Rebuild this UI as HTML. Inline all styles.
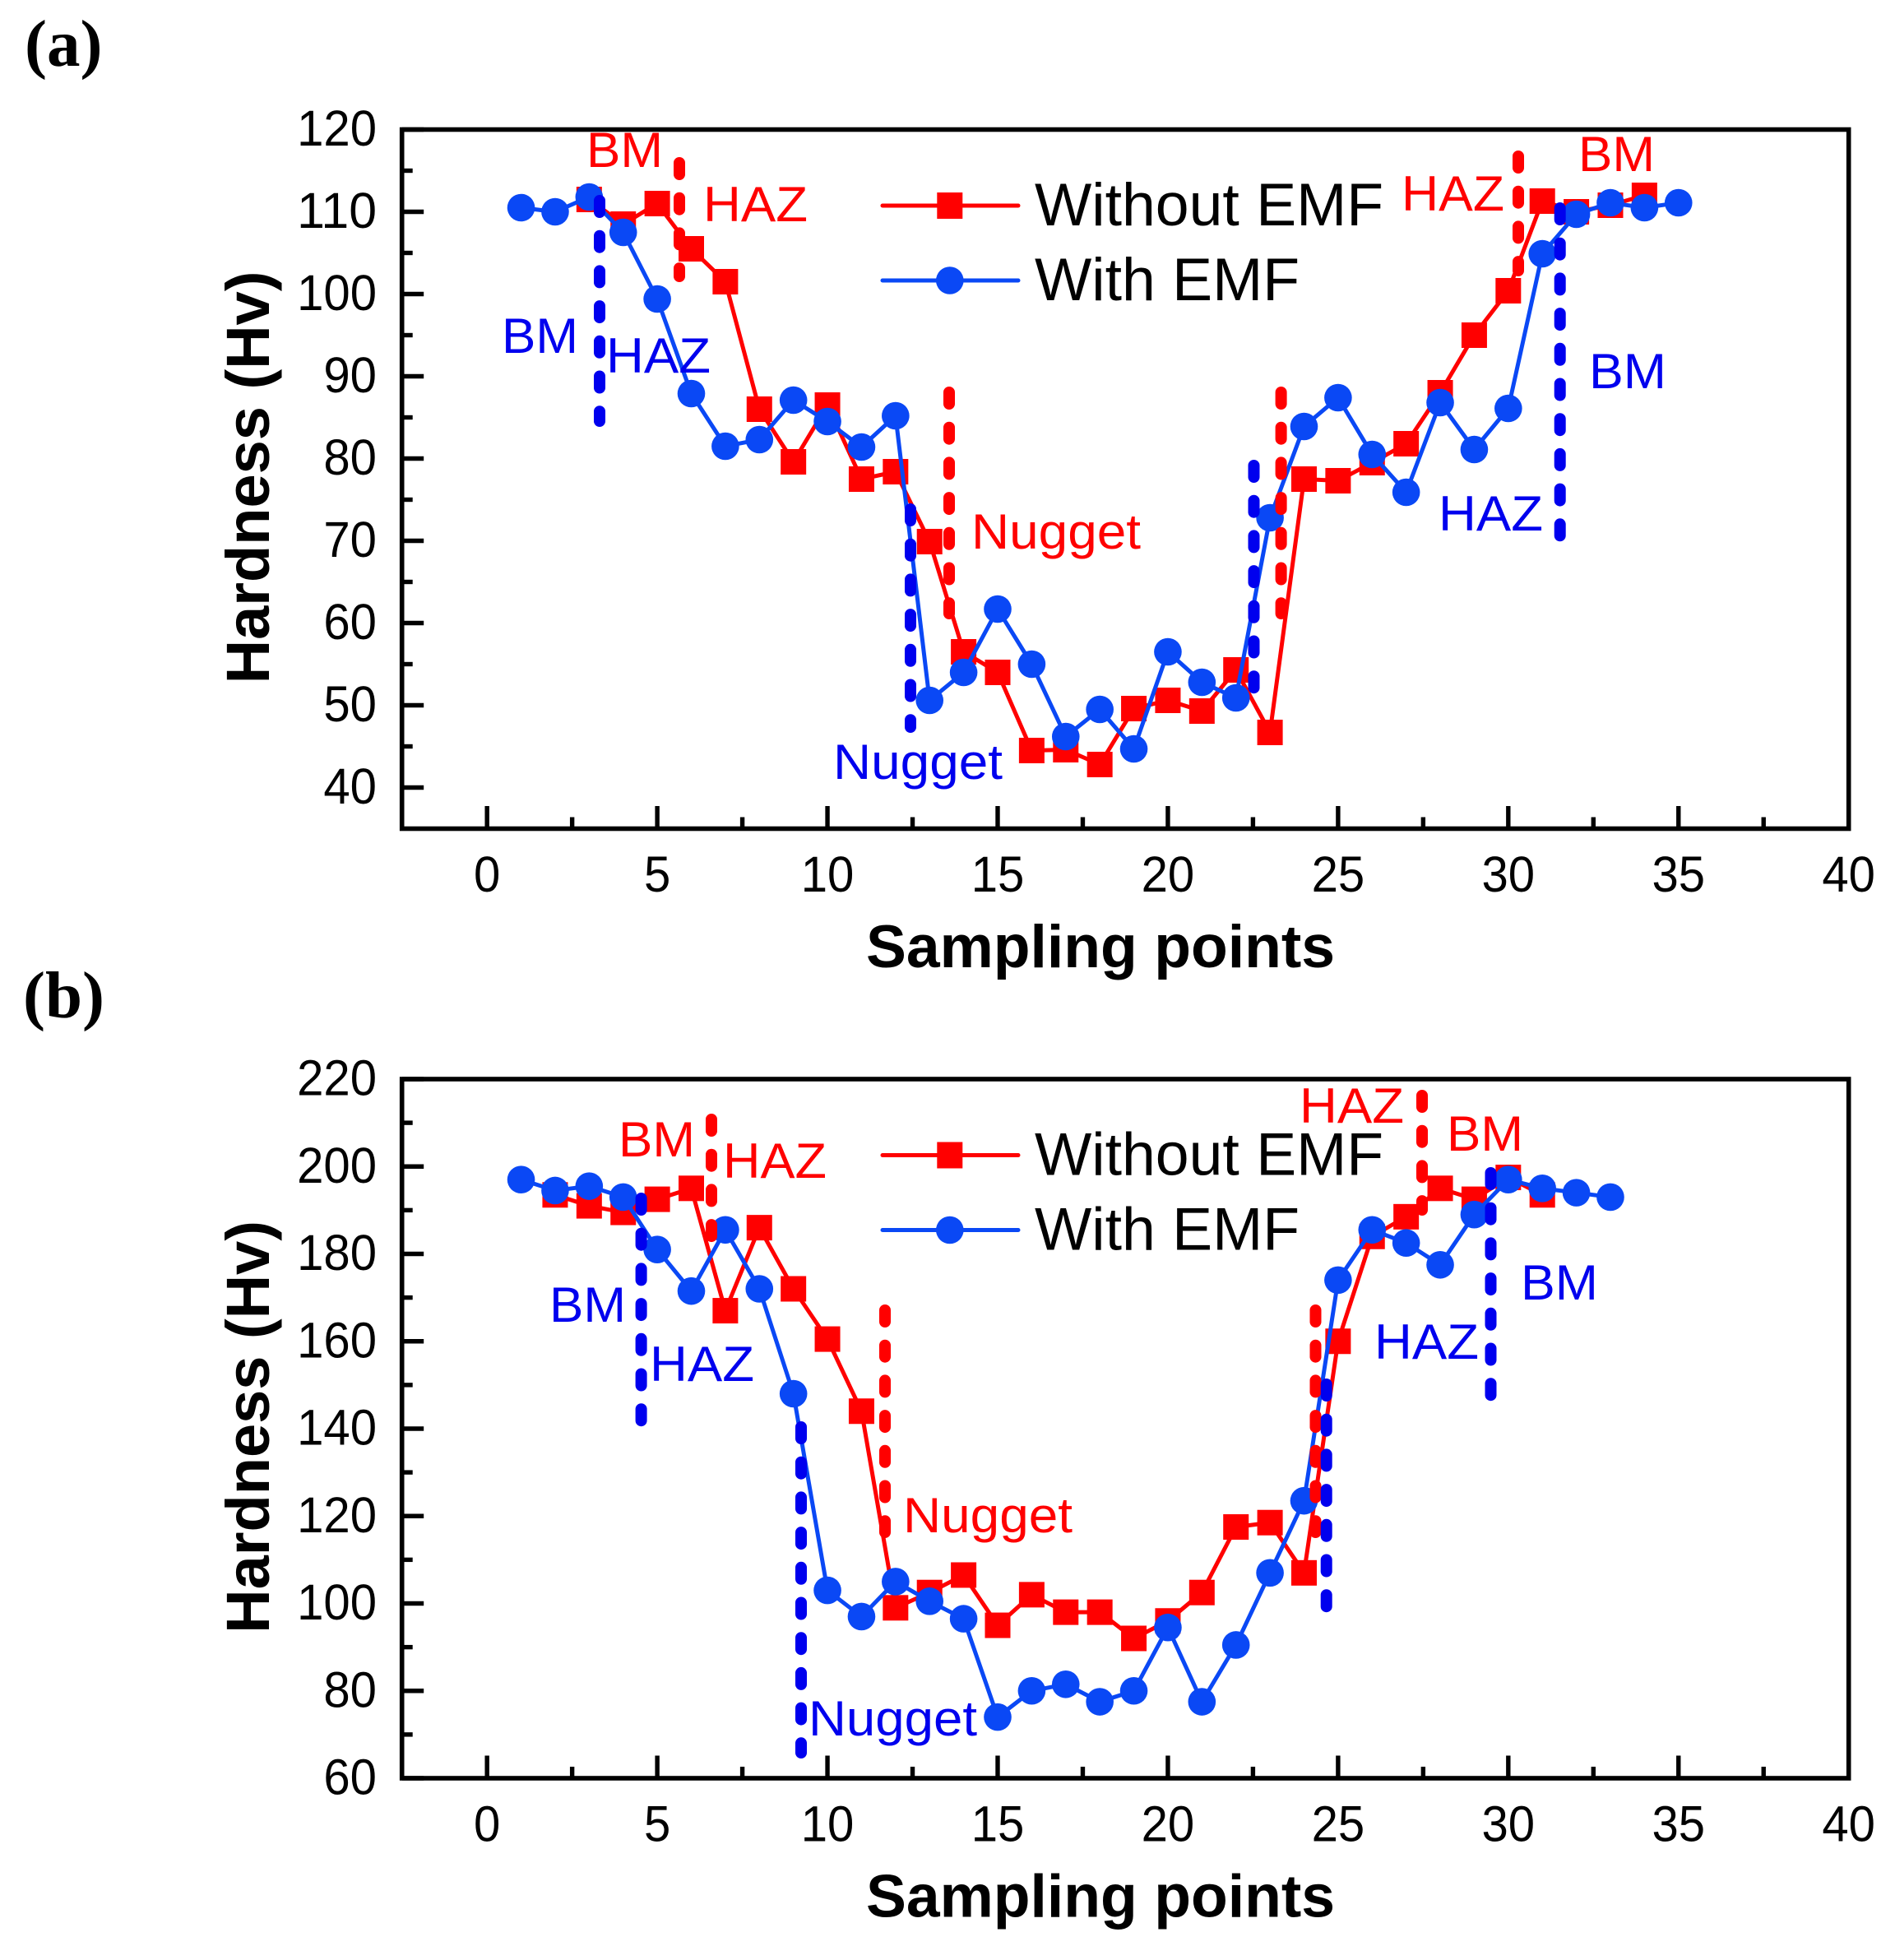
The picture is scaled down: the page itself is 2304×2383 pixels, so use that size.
<!DOCTYPE html>
<html lang="en">
<head>
<meta charset="utf-8">
<title>Hardness vs sampling points</title>
<style>
html,body{margin:0;padding:0;background:#fff;}
svg{display:block;}
text{font-family:"Liberation Sans",Arial,sans-serif;}
.ann{font-size:60px;}
.red{fill:#ff0000;}
.blue{fill:#0000ee;}
.dr{stroke:#ff0000;stroke-width:14;stroke-linecap:round;stroke-dasharray:14 28.7;fill:none;}
.db{stroke:#0000ee;stroke-width:14;stroke-linecap:round;stroke-dasharray:14 28.7;fill:none;}
</style>
</head>
<body>
<svg id="figure" xmlns="http://www.w3.org/2000/svg" width="2304" height="2383" viewBox="0 0 2304 2383">
<rect x="0" y="0" width="2304" height="2383" fill="#ffffff"/>
<text x="30" y="80" font-size="81" font-weight="bold" style="font-family:'Liberation Serif',serif">(a)</text>
<text x="28" y="1237" font-size="81" font-weight="bold" style="font-family:'Liberation Serif',serif">(b)</text>

<g id="panel-a"></g>
<g id="panel-b"></g>

<!-- Panel A zone dividers -->
<g>
<line class="dr" x1="826" y1="198" x2="826" y2="336"/>
<line class="dr" x1="1154" y1="477" x2="1154" y2="746"/>
<line class="dr" x1="1557.6" y1="477" x2="1557.6" y2="746"/>
<line class="dr" x1="1846" y1="190" x2="1846" y2="329"/>
<line class="db" x1="729" y1="244" x2="729" y2="512"/>
<line class="db" x1="1107" y1="619" x2="1107" y2="884"/>
<line class="db" x1="1524.5" y1="566" x2="1524.5" y2="838"/>
<line class="db" x1="1896.7" y1="253" x2="1896.7" y2="654"/>
</g>

<!-- Panel B zone dividers -->
<g>
<line class="dr" x1="865" y1="1361" x2="865" y2="1514"/>
<line class="dr" x1="1076" y1="1593" x2="1076" y2="1863"/>
<line class="dr" x1="1599.5" y1="1593" x2="1599.5" y2="1863"/>
<line class="dr" x1="1729" y1="1332" x2="1729" y2="1471"/>
<line class="db" x1="779.6" y1="1457" x2="779.6" y2="1728"/>
<line class="db" x1="974" y1="1735" x2="974" y2="2131"/>
<line class="db" x1="1612.7" y1="1683" x2="1612.7" y2="1956"/>
<line class="db" x1="1812.5" y1="1426" x2="1812.5" y2="1698"/>
</g>

<!-- Panel A annotations -->
<g>
<text class="ann red" x="713" y="203" textLength="93" lengthAdjust="spacingAndGlyphs">BM</text>
<text class="ann red" x="855" y="269" textLength="127" lengthAdjust="spacingAndGlyphs">HAZ</text>
<text class="ann red" x="1181" y="667" textLength="206" lengthAdjust="spacingAndGlyphs">Nugget</text>
<text class="ann red" x="1704" y="256" textLength="125" lengthAdjust="spacingAndGlyphs">HAZ</text>
<text class="ann red" x="1919" y="208" textLength="93" lengthAdjust="spacingAndGlyphs">BM</text>
<text class="ann blue" x="610" y="429" textLength="93" lengthAdjust="spacingAndGlyphs">BM</text>
<text class="ann blue" x="737" y="453" textLength="127" lengthAdjust="spacingAndGlyphs">HAZ</text>
<text class="ann blue" x="1013" y="947" textLength="206" lengthAdjust="spacingAndGlyphs">Nugget</text>
<text class="ann blue" x="1749" y="645" textLength="127" lengthAdjust="spacingAndGlyphs">HAZ</text>
<text class="ann blue" x="1932" y="472" textLength="94" lengthAdjust="spacingAndGlyphs">BM</text>
</g>

<!-- Panel B annotations -->
<g>
<text class="ann red" x="752" y="1406" textLength="93" lengthAdjust="spacingAndGlyphs">BM</text>
<text class="ann red" x="879" y="1432" textLength="126" lengthAdjust="spacingAndGlyphs">HAZ</text>
<text class="ann red" x="1098" y="1863" textLength="206" lengthAdjust="spacingAndGlyphs">Nugget</text>
<text class="ann red" x="1580" y="1365" textLength="127" lengthAdjust="spacingAndGlyphs">HAZ</text>
<text class="ann red" x="1759" y="1399" textLength="93" lengthAdjust="spacingAndGlyphs">BM</text>
<text class="ann blue" x="668" y="1607" textLength="93" lengthAdjust="spacingAndGlyphs">BM</text>
<text class="ann blue" x="790" y="1679" textLength="127" lengthAdjust="spacingAndGlyphs">HAZ</text>
<text class="ann blue" x="983" y="2110" textLength="205" lengthAdjust="spacingAndGlyphs">Nugget</text>
<text class="ann blue" x="1671" y="1652" textLength="127" lengthAdjust="spacingAndGlyphs">HAZ</text>
<text class="ann blue" x="1849" y="1580" textLength="94" lengthAdjust="spacingAndGlyphs">BM</text>
</g>

<script>
// ---- Shared axis data ----
var xTickValues = [0, 5, 10, 15, 20, 25, 30, 35, 40];
var xMinorValues = [2.5, 7.5, 12.5, 17.5, 22.5, 27.5, 32.5, 37.5];
var xTitle = "Sampling points";
var yTitle = "Hardness (Hv)";
var legendWithout = "Without EMF";
var legendWith = "With EMF";

// ---- Panel A data ----
var aYTicks = [40, 50, 60, 70, 80, 90, 100, 110, 120];
var aYMinor = [45, 55, 65, 75, 85, 95, 105, 115];
var aWithoutPoints = [3, 4, 5, 6, 7, 8, 9, 10, 11, 12, 13, 14, 15, 16, 17, 18, 19, 20, 21, 22, 23, 24, 25, 26, 27, 28, 29, 30, 31, 32, 33, 34];
var aWithoutHardness = [111.5, 108.5, 111, 105.5, 101.5, 86, 79.6, 86.5, 77.5, 78.4, 69.9, 56.5, 54, 44.5, 44.6, 42.8, 49.6, 50.6, 49.3, 54.3, 46.7, 77.5, 77.3, 79.5, 81.8, 88, 95, 100.4, 111.3, 110, 110.8, 112];
var aWithPoints = [1, 2, 3, 4, 5, 6, 7, 8, 9, 10, 11, 12, 13, 14, 15, 16, 17, 18, 19, 20, 21, 22, 23, 24, 25, 26, 27, 28, 29, 30, 31, 32, 33, 34, 35];
var aWithHardness = [110.5, 110, 111.8, 107.5, 99.4, 87.9, 81.5, 82.3, 87.1, 84.5, 81.4, 85.2, 50.6, 54, 61.7, 55, 46.2, 49.5, 44.7, 56.5, 52.8, 50.9, 72.8, 83.9, 87.4, 80.5, 75.9, 86.8, 81.1, 86.1, 104.9, 109.7, 111.1, 110.5, 111.1];

// ---- Panel B data ----
var bYTicks = [60, 80, 100, 120, 140, 160, 180, 200, 220];
var bYMinor = [70, 90, 110, 130, 150, 170, 190, 210];
var bWithoutPoints = [2, 3, 4, 5, 6, 7, 8, 9, 10, 11, 12, 13, 14, 15, 16, 17, 18, 19, 20, 21, 22, 23, 24, 25, 26, 27, 28, 29, 30, 31];
var bWithoutHardness = [193.5, 191, 189.5, 192.5, 195, 167, 186, 172, 160.5, 144, 99, 102.5, 106.5, 95, 102, 98, 98, 92, 96, 102.5, 117.5, 118.5, 107, 160, 184, 188.5, 195, 192.5, 197.5, 193.5];
var bWithPoints = [1, 2, 3, 4, 5, 6, 7, 8, 9, 10, 11, 12, 13, 14, 15, 16, 17, 18, 19, 20, 21, 22, 23, 24, 25, 26, 27, 28, 29, 30, 31, 32, 33];
var bWithHardness = [197, 194.5, 195.5, 193, 181, 171.5, 185.5, 172, 148, 103, 97, 105, 100.5, 96.5, 74, 80, 81.5, 77.5, 80, 94.5, 77.5, 90.5, 107, 123.5, 174, 185.5, 182.5, 177.5, 189, 197, 195, 194, 193];

var SVGNS = "http://www.w3.org/2000/svg";
var RED = "#ff0000";
var BLUE = "#0a48f5";

function attrs(el, o) { for (var k in o) { el.setAttribute(k, o[k]); } return el; }

function drawPanel(group, top, bottom, yMin, yMax, yTicks, yMinor, withoutX, withoutY, withX, withY, prefix) {
  var left = 488.7, right = 2247.7, xMin = -2.5, xMax = 40;
  function xScale(v) { return left + (v - xMin) * (right - left) / (xMax - xMin); }
  function yScale(v) { return bottom - (v - yMin) * (bottom - top) / (yMax - yMin); }

  xMinorValues.forEach(function (v) {
    var t = document.createElementNS(SVGNS, "line");
    
    
    attrs(t, {x1: xScale(v), x2: xScale(v), y1: bottom, y2: bottom - 14, stroke: "#000", "stroke-width": 5.4});
    group.appendChild(t);
  });
  xTickValues.forEach(function (v) {
    var t = document.createElementNS(SVGNS, "line");
    
    
    attrs(t, {x1: xScale(v), x2: xScale(v), y1: bottom, y2: bottom - 27.5, stroke: "#000", "stroke-width": 5.4});
    group.appendChild(t);
    var l = document.createElementNS(SVGNS, "text");
    
    
    attrs(l, {x: xScale(v), y: bottom + 76.5, "text-anchor": "middle", "font-size": 61,
      textLength: String(v).length * 32.3, lengthAdjust: "spacingAndGlyphs"});
    l.textContent = String(v);
    group.appendChild(l);
  });
  yMinor.forEach(function (v) {
    var t = document.createElementNS(SVGNS, "line");
    
    
    attrs(t, {x1: left, x2: left + 13, y1: yScale(v), y2: yScale(v), stroke: "#000", "stroke-width": 5.4});
    group.appendChild(t);
  });
  yTicks.forEach(function (v) {
    var t = document.createElementNS(SVGNS, "line");
    
    
    attrs(t, {x1: left, x2: left + 26.5, y1: yScale(v), y2: yScale(v), stroke: "#000", "stroke-width": 5.4});
    group.appendChild(t);
    var l = document.createElementNS(SVGNS, "text");
    
    
    attrs(l, {x: 458, y: yScale(v) + 19.5, "text-anchor": "end", "font-size": 61,
      textLength: String(v).length * 32.3, lengthAdjust: "spacingAndGlyphs"});
    l.textContent = String(v);
    group.appendChild(l);
  });

  var frame = document.createElementNS(SVGNS, "rect");
  
  
  attrs(frame, {x: left, y: top, width: right - left, height: bottom - top, fill: "none", stroke: "#000", "stroke-width": 5.6});
  group.appendChild(frame);

  var xt = document.createElementNS(SVGNS, "text");
  
  
  attrs(xt, {x: 1338, y: bottom + 168.5, "text-anchor": "middle", "font-size": 73.3, "font-weight": "bold"});
  xt.textContent = xTitle;
  group.appendChild(xt);

  var yt = document.createElementNS(SVGNS, "text");
  
  
  attrs(yt, {x: 0, y: 0, "text-anchor": "middle", "font-size": 74, "font-weight": "bold",
    transform: "translate(327," + (top + 423) + ") rotate(-90)"});
  yt.textContent = yTitle;
  group.appendChild(yt);

  // Without EMF series
  var redPts = withoutX.map(function (x, i) { return xScale(x) + "," + yScale(withoutY[i]); }).join(" ");
  var redLine = document.createElementNS(SVGNS, "polyline");
  
  
  attrs(redLine, {points: redPts, fill: "none", stroke: RED, "stroke-width": 5});
  group.appendChild(redLine);
  withoutX.forEach(function (x, i) {
    var m = document.createElementNS(SVGNS, "rect");
    
    
    attrs(m, {x: xScale(x) - 15.5, y: yScale(withoutY[i]) - 15.5, width: 31, height: 31, fill: RED});
    group.appendChild(m);
  });

  // With EMF series
  var bluePts = withX.map(function (x, i) { return xScale(x) + "," + yScale(withY[i]); }).join(" ");
  var blueLine = document.createElementNS(SVGNS, "polyline");
  
  
  attrs(blueLine, {points: bluePts, fill: "none", stroke: BLUE, "stroke-width": 5});
  group.appendChild(blueLine);
  withX.forEach(function (x, i) {
    var m = document.createElementNS(SVGNS, "circle");
    
    
    attrs(m, {cx: xScale(x), cy: yScale(withY[i]), r: 16.8, fill: BLUE});
    group.appendChild(m);
  });

  // Legend
  var ly1 = top + 92.5, ly2 = top + 183.5;
  var l1 = document.createElementNS(SVGNS, "line");
  
  
  attrs(l1, {x1: 1073, x2: 1238, y1: ly1, y2: ly1, stroke: RED, "stroke-width": 5, "stroke-linecap": "round"});
  group.appendChild(l1);
  var lm1 = document.createElementNS(SVGNS, "rect");
  
  
  attrs(lm1, {x: 1139.3, y: ly1 - 16, width: 31, height: 32, fill: RED});
  group.appendChild(lm1);
  var lt1 = document.createElementNS(SVGNS, "text");
  
  
  attrs(lt1, {x: 1258, y: ly1 + 24, "font-size": 73.4, fill: "#000"});
  lt1.textContent = legendWithout;
  group.appendChild(lt1);
  var l2 = document.createElementNS(SVGNS, "line");
  
  
  attrs(l2, {x1: 1073, x2: 1238, y1: ly2, y2: ly2, stroke: BLUE, "stroke-width": 5, "stroke-linecap": "round"});
  group.appendChild(l2);
  var lm2 = document.createElementNS(SVGNS, "circle");
  
  
  attrs(lm2, {cx: 1154.8, cy: ly2, r: 16.8, fill: BLUE});
  group.appendChild(lm2);
  var lt2 = document.createElementNS(SVGNS, "text");
  
  
  attrs(lt2, {x: 1258, y: ly2 + 24, "font-size": 73.4, fill: "#000"});
  lt2.textContent = legendWith;
  group.appendChild(lt2);
}

drawPanel(document.getElementById("panel-a"), 157.5, 1007.5, 35, 120, aYTicks, aYMinor,
  aWithoutPoints, aWithoutHardness, aWithPoints, aWithHardness, "panel-a");
drawPanel(document.getElementById("panel-b"), 1312, 2162, 60, 220, bYTicks, bYMinor,
  bWithoutPoints, bWithoutHardness, bWithPoints, bWithHardness, "panel-b");
</script>
</svg>
</body>
</html>
